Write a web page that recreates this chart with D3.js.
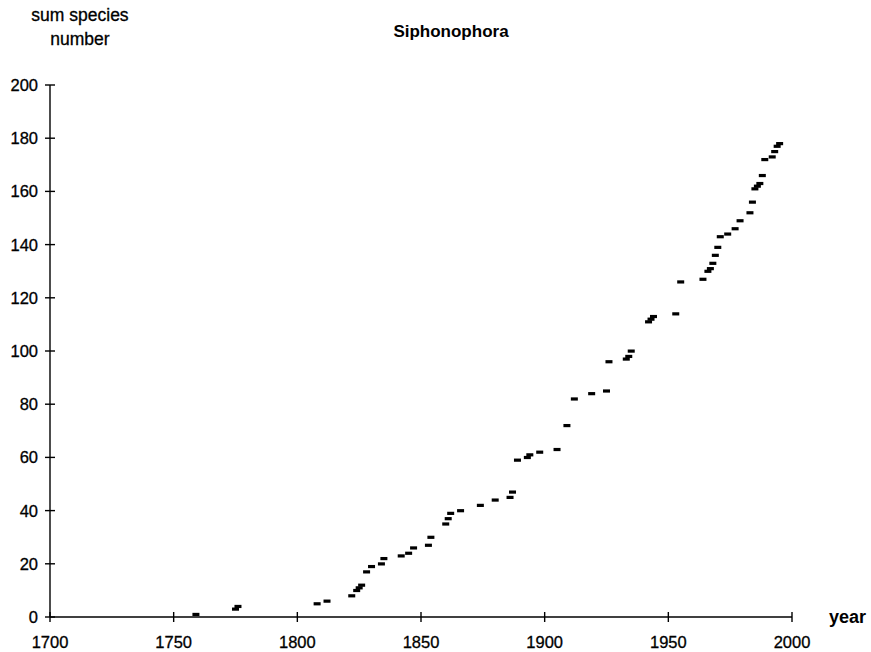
<!DOCTYPE html>
<html>
<meta charset="utf-8">
<title>Siphonophora</title>
<style>
  body { margin: 0; background: #fff; }
  text { font-family: "Liberation Sans", Arial, sans-serif; fill: #000; }
  .heavy { stroke: #000; stroke-width: 0.3px; }
</style>
<body>
<div id="chart"></div>
<script src="https://d3js.org/d3.v7.min.js"></script>
<script>
// year of description and cumulative species count
var years = [1759, 1775, 1776, 1808, 1812, 1822, 1824, 1825, 1826, 1828, 1830, 1834, 1835,
  1842, 1845, 1847, 1853, 1854, 1860, 1861, 1862, 1866, 1874, 1880, 1886, 1887, 1889,
  1893, 1894, 1898, 1905, 1909, 1912, 1919, 1925, 1926, 1933, 1934, 1935, 1942, 1943,
  1944, 1953, 1955, 1964, 1966, 1967, 1968, 1969, 1970, 1971, 1974, 1977, 1979, 1983,
  1984, 1985, 1986, 1987, 1988, 1989, 1992, 1993, 1994, 1995];
var sumSpecies = [1, 3, 4, 5, 6, 8, 10, 11, 12, 17, 19, 20, 22,
  23, 24, 26, 27, 30, 35, 37, 39, 40, 42, 44, 45, 47, 59,
  60, 61, 62, 63, 72, 82, 84, 85, 96, 97, 98, 100, 111, 112,
  113, 114, 126, 127, 130, 131, 133, 136, 139, 143, 144, 146, 149, 152,
  156, 161, 162, 163, 166, 172, 173, 175, 177, 178];
var xTicks = [1700, 1750, 1800, 1850, 1900, 1950, 2000];
var yTicks = [0, 20, 40, 60, 80, 100, 120, 140, 160, 180, 200];

var W = 871, H = 652;
var svg = d3.select("#chart").append("svg").attr("width", W).attr("height", H);

var x = d3.scaleLinear().domain([1700, 2000]).range([50, 792]);
var y = d3.scaleLinear().domain([0, 200]).range([617, 85]);

// axes
var gx = svg.append("g").attr("transform", "translate(0," + y(0) + ")");
gx.append("line").attr("x1", x(1700)).attr("x2", x(2000))
  .attr("stroke", "#000").attr("stroke-width", 1.4);
gx.selectAll(".tk").data(xTicks).enter().append("line")
  .attr("x1", d => x(d)).attr("x2", d => x(d))
  .attr("y1", -5).attr("y2", 5)
  .attr("stroke", "#000").attr("stroke-width", 1.4);
gx.selectAll(".lb").data(xTicks).enter().append("text")
  .attr("class", "heavy")
  .attr("x", d => x(d)).attr("y", 31)
  .attr("text-anchor", "middle").style("font-size", "16.5px")
  .text(d => d);

var gy = svg.append("g").attr("transform", "translate(" + x(1700) + ",0)");
gy.append("line").attr("y1", y(0)).attr("y2", y(200))
  .attr("stroke", "#000").attr("stroke-width", 1.4);
gy.selectAll(".tk").data(yTicks).enter().append("line")
  .attr("x1", -5).attr("x2", 5)
  .attr("y1", d => y(d)).attr("y2", d => y(d))
  .attr("stroke", "#000").attr("stroke-width", 1.4);
gy.selectAll(".lb").data(yTicks).enter().append("text")
  .attr("class", "heavy")
  .attr("x", -12).attr("y", d => y(d) + 6)
  .attr("text-anchor", "end").style("font-size", "16.5px")
  .text(d => d);

// dashes
var pts = years.map((d, i) => ({ year: d, n: sumSpecies[i] }));
svg.selectAll(".pt").data(pts).enter().append("rect")
  .attr("x", d => x(d.year) - 3.5).attr("y", d => y(d.n) - 1.5)
  .attr("width", 7).attr("height", 3.2)
  .attr("fill", "#000");

// labels
svg.append("text").attr("x", 451).attr("y", 37)
  .attr("text-anchor", "middle").style("font-size", "17px").style("font-weight", "bold")
  .text("Siphonophora");
svg.append("text").attr("class", "heavy").attr("x", 80).attr("y", 21)
  .attr("text-anchor", "middle").style("font-size", "17.5px")
  .text("sum species");
svg.append("text").attr("class", "heavy").attr("x", 80).attr("y", 45)
  .attr("text-anchor", "middle").style("font-size", "17.5px")
  .text("number");
svg.append("text").attr("x", 829).attr("y", 623)
  .style("font-size", "18px").style("font-weight", "bold")
  .text("year");
</script>
</body>
</html>
